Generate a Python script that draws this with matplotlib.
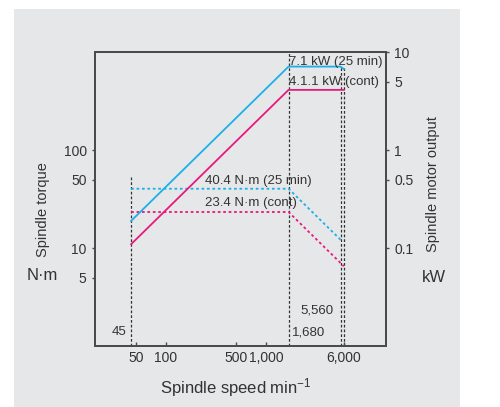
import matplotlib
matplotlib.use("Agg")
import matplotlib.pyplot as plt
from matplotlib.patches import Rectangle
from matplotlib.ticker import FixedLocator, FixedFormatter, NullLocator

plt.rcParams['font.family'] = ['Liberation Sans', 'DejaVu Sans']
plt.rcParams['mathtext.fontset'] = 'custom'
plt.rcParams['mathtext.rm'] = 'Liberation Sans'
plt.rcParams['mathtext.default'] = 'regular'

# ---- data ----
speed_pw_25 = [45, 1680, 5560, 6000]
power_25 = [0.19, 7.1, 7.1, 6.7]
speed_pw_cont = [45, 1680, 6000]
power_cont = [0.11, 4.11, 4.11]
speed_tq_25 = [45, 1680, 5560]
torque_25 = [40.4, 40.4, 12.2]
speed_tq_cont = [45, 1680, 6000]
torque_cont = [23.4, 23.4, 6.55]
marker_speeds = [45, 1680, 5560, 6000]
x_ticks = [50, 100, 500, 1000, 6000]
x_tick_labels = ['50', '100', '500', '1,000', '6,000']
torque_ticks = [5, 10, 50, 100]
torque_tick_labels = ['5', '10', '50', '100']
power_ticks = [0.1, 0.5, 1, 5, 10]
power_tick_labels = ['0.1', '0.5', '1', '5', '10']

BLUE = '#1cb0e8'
PINK = '#e6197f'
TXT = '#333333'
SPINE = '#4a4a4a'
BG = '#e6e7e8'

W, H = 500, 407
fig = plt.figure(figsize=(5, 4.07), dpi=100, facecolor='white')
fig.patches.append(Rectangle((14 / W, 0), (460 - 14) / W, 1 - 9 / H,
                             transform=fig.transFigure, facecolor=BG,
                             edgecolor='none', zorder=-10))

ax = fig.add_axes([95 / W, 1 - 345.5 / H, (386 - 95) / W, (345.5 - 52) / H])
ax.set_facecolor('none')
ax.set_xscale('log')
ax.set_yscale('log')
ax.set_xlim(19.6, 15800)
ax.set_ylim(1.02, 1000)

ax2 = ax.twinx()
ax2.set_yscale('log')
ax2.set_ylim(0.0102, 10)

for a in (ax, ax2):
    for s in a.spines.values():
        s.set_color(SPINE)
        s.set_linewidth(1.3)

# vertical reference lines
vl_style = dict(color='#333333', lw=0.9, ls=(0, (2.2, 1.6)), zorder=1)
ax.plot([marker_speeds[0]] * 2, [1.02, 53.5], **vl_style)
ax.plot([marker_speeds[1]] * 2, [1.02, 1000], **vl_style)
ax.plot([marker_speeds[2]] * 2, [1.02, 700], **vl_style)
ax.plot([marker_speeds[3]] * 2, [1.02, 680], **vl_style)

# torque (dotted)
tq_style = dict(lw=1.3, ls=(0, (1.5, 1.5)))
ax.plot(speed_tq_25, torque_25, color=BLUE, **tq_style)
ax.plot(speed_tq_cont, torque_cont, color=PINK, **tq_style)

# power (solid)
ax2.plot(speed_pw_25, power_25, color=BLUE, lw=1.3)
ax2.plot(speed_pw_cont, power_cont, color=PINK, lw=1.3)

# ticks
ax.xaxis.set_major_locator(FixedLocator(x_ticks))
ax.xaxis.set_major_formatter(FixedFormatter(x_tick_labels))
ax.xaxis.set_minor_locator(NullLocator())
ax.yaxis.set_major_locator(FixedLocator(torque_ticks))
ax.yaxis.set_major_formatter(FixedFormatter(torque_tick_labels))
ax.yaxis.set_minor_locator(NullLocator())
ax2.yaxis.set_major_locator(FixedLocator(power_ticks))
ax2.yaxis.set_major_formatter(FixedFormatter(power_tick_labels))
ax2.yaxis.set_minor_locator(NullLocator())

ax.tick_params(axis='x', direction='in', length=3, width=1, color=SPINE,
               labelsize=10, labelcolor=TXT, pad=4)
ax.tick_params(axis='y', direction='out', length=2.5, width=1, color=SPINE,
               labelsize=10, labelcolor=TXT, pad=3.5)
ax2.tick_params(axis='y', direction='out', length=2.5, width=1, color=SPINE,
                labelsize=10, labelcolor=TXT, pad=3.5)

# axis labels
ax.set_xlabel('Spindle speed min$^{-1}$', fontsize=12, color=TXT)
ax.xaxis.set_label_coords(0.485, -0.105)
ax.xaxis.label.set_va('top')

fig.text(43 / W, 1 - 210 / H, 'Spindle torque', rotation=90, ha='center',
         va='center', fontsize=10.5, color=TXT)
fig.text(42.5 / W, 1 - 275 / H, 'N·m', ha='center', va='center',
         fontsize=12, color=TXT)
fig.text(433 / W, 1 - 184 / H, 'Spindle motor output', rotation=90,
         ha='center', va='center', fontsize=10.5, color=TXT)
fig.text(434 / W, 1 - 277 / H, 'kW', ha='center', va='center',
         fontsize=12, color=TXT)

# annotations
ann = dict(fontsize=9.5, color=TXT, va='center')
ax2.text(1700, 7.9, '7.1 kW (25 min)', ha='left', **ann)
ax2.text(1700, 5.0, '4.1.1 kW (cont)', ha='left', **ann)
ax.text(245, 48.8, '40.4 N·m (25 min)', ha='left', **ann)
ax.text(245, 28.7, '23.4 N·m (cont)', ha='left', **ann)
ax.text(40.7, 1.40, '45', ha='right', **ann)
ax.text(1820, 1.40, '1,680', ha='left', **ann)
ax.text(4677, 2.34, '5,560', ha='right', **ann)

fig.savefig('out.png', dpi=100, facecolor='white')
